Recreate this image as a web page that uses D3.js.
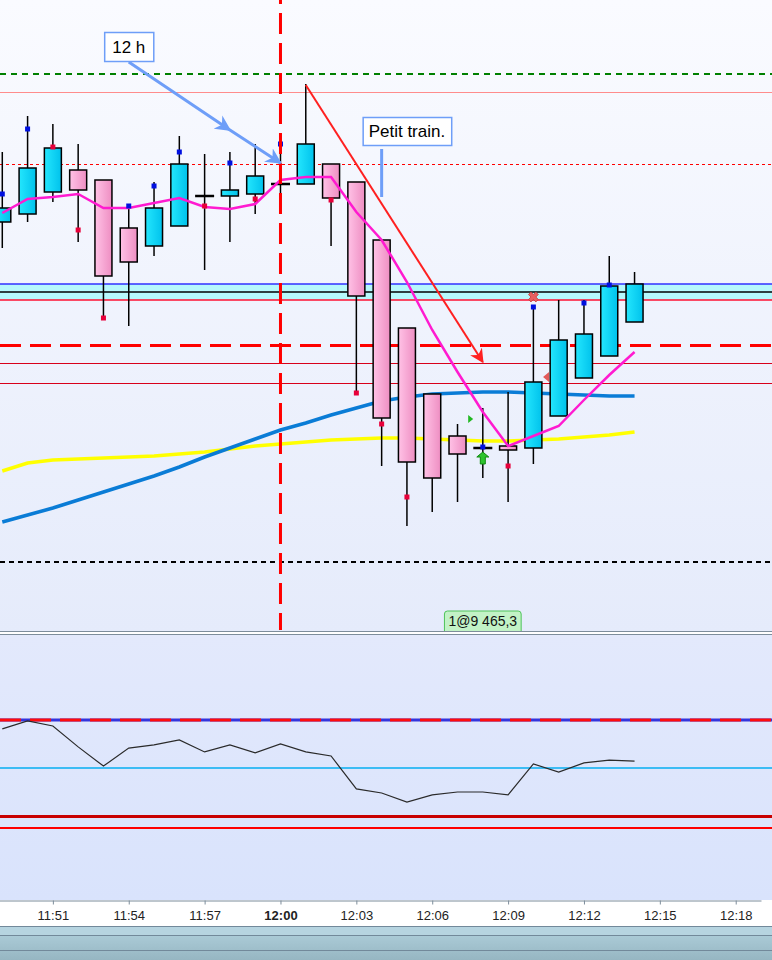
<!DOCTYPE html>
<html>
<head>
<meta charset="utf-8">
<script src="https://cdn.jsdelivr.net/npm/d3@7"></script>
<style>
  body { margin: 0; background: #fff; overflow: hidden; }
  svg { display: block; font-family: "Liberation Sans", Arial, sans-serif; }
</style>
</head>
<body>
<svg id="chart" width="772" height="960"></svg>
<script>
// one-minute bars
const times = ['11:49', '11:50', '11:51', '11:52', '11:53', '11:54', '11:55', '11:56', '11:57', '11:58',
  '11:59', '12:00', '12:01', '12:02', '12:03', '12:04', '12:05', '12:06', '12:07', '12:08',
  '12:09', '12:10', '12:11', '12:12', '12:13', '12:14']
const open = [9476.6, 9477.0, 9478.1, 9479.2, 9478.7, 9476.3, 9475.4, 9476.4, 9477.9, 9477.9,
  9478.0, 9478.5, 9478.5, 9479.5, 9478.6, 9475.7, 9471.3, 9468.0, 9465.9, 9465.3,
  9465.4, 9465.3, 9466.9, 9468.8, 9469.9, 9471.6]
const high = [9480.1, 9481.9, 9481.5, 9480.5, 9478.7, 9477.4, 9478.6, 9480.9, 9480.0, 9480.1,
  9480.5, 9481.0, 9483.5, 9479.5, 9478.6, 9475.7, 9471.3, 9468.0, 9466.5, 9467.3,
  9468.1, 9472.3, 9472.7, 9472.7, 9474.9, 9474.1]
const low = [9475.3, 9476.6, 9477.6, 9475.6, 9471.8, 9471.4, 9474.9, 9476.4, 9474.2, 9475.6,
  9477.0, 9477.0, 9478.5, 9475.4, 9468.1, 9464.4, 9461.4, 9462.1, 9462.6, 9463.8,
  9462.6, 9464.5, 9466.9, 9468.8, 9469.9, 9471.6]
const close = [9477.3, 9479.3, 9480.3, 9478.2, 9473.9, 9474.6, 9477.3, 9479.5, 9477.9, 9478.2,
  9478.9, 9478.5, 9480.5, 9477.8, 9472.9, 9466.8, 9464.6, 9463.8, 9465.0, 9465.3,
  9465.2, 9468.6, 9470.7, 9471.0, 9473.4, 9473.5]

// moving averages
const maShort = [9477.05, 9477.75, 9477.85, 9478.0, 9477.3, 9477.3, 9477.55, 9477.8, 9477.35, 9477.25,
  9477.5, 9478.7, 9478.85, 9478.85, 9477.1, 9475.7, 9473.6, 9471.2, 9469.1, 9467.1,
  9465.4, 9465.9, 9466.4, 9467.7, 9468.95, 9470.1]
const maMid = [9461.6, 9461.95, 9462.3, 9462.7, 9463.1, 9463.5, 9463.9, 9464.35, 9464.85, 9465.3,
  9465.75, 9466.2, 9466.55, 9466.95, 9467.3, 9467.65, 9467.85, 9468.0, 9468.05, 9468.1,
  9468.1, 9468.05, 9468.0, 9467.95, 9467.9, 9467.9]
const maLong = [9464.15, 9464.55, 9464.7, 9464.75, 9464.8, 9464.85, 9464.9, 9465.0, 9465.1, 9465.25,
  9465.4, 9465.5, 9465.6, 9465.7, 9465.75, 9465.8, 9465.8, 9465.75, 9465.7, 9465.65,
  9465.65, 9465.7, 9465.75, 9465.85, 9465.95, 9466.1]

// oscillator (lower panel)
const osc = [66.3, 69.6, 67.5, 58.8, 50.8, 58.3, 59.6, 61.7, 56.7, 59.6,
  56.3, 60.0, 56.7, 55.0, 41.3, 39.6, 35.8, 38.8, 40.0, 40.0,
  38.8, 51.7, 48.3, 52.1, 53.3, 52.9]
const oscLevels = { upper: 70, middle: 50, lower: 30, floor: 25 }

// price levels drawn across the main panel
const levelTargetHigh = 9484.0
const levelPrevHigh = 9483.1
const levelPivot = 9479.5
const zoneTop = 9473.5
const zoneMid = 9473.1
const zoneBottom = 9472.7
const levelStop = 9470.45
const levelA = 9469.55
const levelB = 9468.55
const levelLow = 9459.6

// swing markers
const highMarkTimes = ['11:49', '11:50', '11:54', '11:55', '11:56', '11:58', '12:00', '12:08', '12:10', '12:12', '12:13']
const highMarkPrices = [9478.0, 9481.25, 9477.4, 9478.4, 9480.1, 9479.55, 9480.5, 9465.35, 9472.35, 9472.55, 9473.45]
const lowMarkTimes = ['11:51', '11:52', '11:53', '11:57', '11:59', '12:02', '12:03', '12:04', '12:05', '12:09']
const lowMarkPrices = [9480.35, 9476.2, 9471.8, 9477.4, 9477.75, 9477.7, 9468.05, 9466.5, 9462.85, 9464.4]

// signals
const signals = [
  { time: '12:08', price: 9465.1, shape: 'buy' },
  { time: '12:07:30', price: 9466.75, shape: 'right' },
  { time: '12:10', price: 9472.85, shape: 'cross' },
  { time: '12:10:30', price: 9468.85, shape: 'left' }
]

// annotations
const trendLine = [['12:01', 9483.45], ['12:08', 9469.6]]
const noteArrow = [['11:54', 9484.6], ['11:58', 9481.2], ['12:00', 9479.55]]
const noteBox = { time: '11:54', price: 9486.1, text: '12 h' }
const trainBox = { time: '12:05', price: 9481.85, text: 'Petit train.' }
const trainTick = [['12:04', 9480.25], ['12:04', 9477.85]]
const sessionStart = '12:00'
const position = { time: '12:08', qty: 1, price: 9465.3 }

const tickLabels = ['11:51', '11:54', '11:57', '12:00', '12:03', '12:06', '12:09', '12:12', '12:15', '12:18']
const boldTicks = ['12:00']

const W = 772
const mainH = 630
const oscTop = 635
const oscBottom = 900
const axisY = 900

const parseT = s => d3.timeParse(s.length > 5 ? '%H:%M:%S' : '%H:%M')(s)
const fmtT = d3.timeFormat('%H:%M')

const x = d3.scaleTime()
    .domain([parseT('11:48'), parseT('12:19')])
    .range([-23, 761])
const y = d3.scaleLinear()
    .domain([9487.7, 9456.2])
    .range([0, mainH])
const yOsc = d3.scaleLinear()
    .domain([oscLevels.upper, oscLevels.lower])
    .range([720, 816])

const bars = times.map((t, i) => ({
  t: parseT(t), o: open[i], h: high[i], l: low[i], c: close[i]
}))

const svg = d3.select('#chart')
const defs = svg.append('defs')

function vGrad (id, stops) {
  let g = defs.append('linearGradient').attr('id', id)
      .attr('x1', 0).attr('y1', 0).attr('x2', 0).attr('y2', 1)
  stops.forEach((c, i) => g.append('stop').attr('offset', i / (stops.length - 1)).attr('stop-color', c))
}
function hGrad (id, a, b) {
  let g = defs.append('linearGradient').attr('id', id)
      .attr('x1', 0).attr('y1', 0).attr('x2', 1).attr('y2', 0)
  g.append('stop').attr('offset', 0).attr('stop-color', a)
  g.append('stop').attr('offset', 1).attr('stop-color', b)
}
vGrad('bgMain', ['#fafbff', '#e5ebfb'])
vGrad('bgOsc', ['#e3e9fc', '#d9e3fc'])
vGrad('bgScroll', ['#b2d2de', '#96b6c2'])
hGrad('bull', '#24e6fd', '#00c2ec')
hGrad('bear', '#ffc2e6', '#ee8ec2')

function arrowMarker (id, color, size) {
  defs.append('marker').attr('id', id)
      .attr('viewBox', '0 0 10 10').attr('refX', 9).attr('refY', 5)
      .attr('markerWidth', size).attr('markerHeight', size)
      .attr('markerUnits', 'userSpaceOnUse')
      .attr('orient', 'auto')
    .append('path').attr('d', 'M0,0 L10,5 L0,10 L3,5 Z').attr('fill', color)
}
arrowMarker('arrowRed', '#ff2020', 14)
arrowMarker('arrowBlue', '#6e9ef8', 16)

// backgrounds
svg.append('rect').attr('width', W).attr('height', mainH + 1).attr('fill', 'url(#bgMain)')
svg.append('rect').attr('y', oscTop).attr('width', W).attr('height', oscBottom - oscTop).attr('fill', 'url(#bgOsc)')
svg.append('rect').attr('y', 926).attr('width', W).attr('height', 34).attr('fill', 'url(#bgScroll)')
svg.append('rect').attr('y', 927).attr('width', W).attr('height', 8).attr('fill', '#b6d4e0')
;[631.5, 634.5].forEach(v => svg.append('line').attr('x1', 0).attr('x2', W).attr('y1', v).attr('y2', v)
    .attr('stroke', '#7d8d9b').attr('stroke-width', 1))
;[926.5, 935.5, 950.5].forEach(v => svg.append('line').attr('x1', 0).attr('x2', W).attr('y1', v).attr('y2', v)
    .attr('stroke', '#72899a').attr('stroke-width', 1))

const main = svg.append('g')

// odd widths sit on half pixels to stay crisp
function hLine (g, yy, color, width, dash) {
  let yc = width % 2 === 1 ? Math.round(yy) + 0.5 : Math.round(yy)
  g.append('line').attr('x1', 0).attr('x2', W).attr('y1', yc).attr('y2', yc)
      .attr('stroke', color).attr('stroke-width', width)
      .attr('stroke-dasharray', dash || null)
}

// zone band
main.append('rect').attr('x', 0).attr('width', W)
    .attr('y', y(zoneTop)).attr('height', y(zoneBottom) - y(zoneTop))
    .attr('fill', '#b6f8fc')
hLine(main, y(zoneTop), '#3030ff', 1.5)
hLine(main, y(zoneMid), '#000', 1.5)
hLine(main, y(zoneBottom), '#ff1030', 1.5)

hLine(main, y(levelTargetHigh), '#008000', 2, '6,5')
hLine(main, y(levelPrevHigh), '#ff8c8c', 1)
hLine(main, y(levelPivot), '#ff0000', 1, '3,3')
hLine(main, y(levelA), '#d8001a', 1)
hLine(main, y(levelB), '#d8001a', 1)
hLine(main, y(levelLow), '#000', 2, '5,4')

// moving averages
const line = d3.line().x((d, i) => x(parseT(times[i]))).y(d => y(d))
main.append('path').datum(maLong).attr('d', line)
    .attr('fill', 'none').attr('stroke', '#ffff00').attr('stroke-width', 3.5)
main.append('path').datum(maMid).attr('d', line)
    .attr('fill', 'none').attr('stroke', '#0a7cd6').attr('stroke-width', 3.5)

hLine(main, y(levelStop), '#ff0000', 3, '21,9')

// candles
const bw = 17
const candle = main.selectAll('g.candle').data(bars).join('g').attr('class', 'candle')
candle.append('line')
    .attr('x1', d => x(d.t)).attr('x2', d => x(d.t))
    .attr('y1', d => y(d.h)).attr('y2', d => y(d.l))
    .attr('stroke', '#000').attr('stroke-width', 1.5)
candle.filter(d => d.o !== d.c).append('rect')
    .attr('x', d => x(d.t) - bw / 2)
    .attr('y', d => y(Math.max(d.o, d.c)))
    .attr('width', bw)
    .attr('height', d => Math.max(2, Math.abs(y(d.o) - y(d.c))))
    .attr('fill', d => d.c > d.o ? 'url(#bull)' : 'url(#bear)')
    .attr('stroke', '#000').attr('stroke-width', 1.5)
candle.filter(d => d.o === d.c).append('line')
    .attr('x1', d => x(d.t) - bw / 2 - 1).attr('x2', d => x(d.t) + bw / 2 + 1)
    .attr('y1', d => y(d.c)).attr('y2', d => y(d.c))
    .attr('stroke', '#000').attr('stroke-width', 2.5)

main.append('path').datum(maShort).attr('d', line)
    .attr('fill', 'none').attr('stroke', '#ff1ad0').attr('stroke-width', 2.5)

// swing markers
main.selectAll('rect.hm').data(highMarkTimes).join('rect').attr('class', 'hm')
    .attr('x', d => x(parseT(d)) - 2.5).attr('y', (d, i) => y(highMarkPrices[i]) - 2.5)
    .attr('width', 5).attr('height', 5).attr('fill', '#0010e0')
main.selectAll('rect.lm').data(lowMarkTimes).join('rect').attr('class', 'lm')
    .attr('x', d => x(parseT(d)) - 2.5).attr('y', (d, i) => y(lowMarkPrices[i]) - 2.5)
    .attr('width', 5).attr('height', 5).attr('fill', '#e8003a')

// signals
signals.forEach(s => {
  let sx = x(parseT(s.time))
  let sy = y(s.price)
  let g = main.append('g').attr('transform', `translate(${sx},${sy})`)
  if (s.shape === 'buy') {
    g.append('path').attr('d', 'M0,0 L6,5 L2.5,5 L2.5,12 L-2.5,12 L-2.5,5 L-6,5 Z')
        .attr('fill', '#2ec42e').attr('stroke', '#108a10').attr('stroke-width', 1)
  } else if (s.shape === 'right') {
    g.append('path').attr('d', 'M-2,-4 L3,0 L-2,4 Z').attr('fill', '#22b822')
  } else if (s.shape === 'left') {
    g.append('path').attr('d', 'M3,-5 L-3,0 L3,5 Z').attr('fill', '#e25a5a')
  } else if (s.shape === 'cross') {
    g.append('path').attr('d', d3.symbol(d3.symbolCross, 60))
        .attr('transform', 'rotate(45)')
        .attr('fill', '#e86060').attr('stroke', '#c43c3c').attr('stroke-width', 0.8)
  }
})

// session marker
main.append('line')
    .attr('x1', x(parseT(sessionStart))).attr('x2', x(parseT(sessionStart)))
    .attr('y1', 0).attr('y2', mainH)
    .attr('stroke', '#ff0000').attr('stroke-width', 3)
    .attr('stroke-dasharray', '21,9').attr('stroke-dashoffset', 17)

// trend arrow
main.append('line')
    .attr('x1', x(parseT(trendLine[0][0]))).attr('y1', y(trendLine[0][1]))
    .attr('x2', x(parseT(trendLine[1][0]))).attr('y2', y(trendLine[1][1]))
    .attr('stroke', '#ff2020').attr('stroke-width', 2)
    .attr('marker-end', 'url(#arrowRed)')

// note arrow
main.append('polyline')
    .attr('points', noteArrow.map(p => [x(parseT(p[0])), y(p[1])].join(',')).join(' '))
    .attr('fill', 'none').attr('stroke', '#6e9ef8').attr('stroke-width', 3)
    .attr('marker-mid', 'url(#arrowBlue)').attr('marker-end', 'url(#arrowBlue)')

function noteLabel (note, padX, h) {
  let g = main.append('g')
  let t = g.append('text')
      .attr('x', x(parseT(note.time))).attr('y', y(note.price) + h / 2 + 6)
      .attr('text-anchor', 'middle').attr('font-size', 17).attr('fill', '#000')
      .text(note.text)
  let w = t.node().getComputedTextLength() + padX * 2
  g.insert('rect', 'text')
      .attr('x', x(parseT(note.time)) - w / 2 + 0.5).attr('y', y(note.price) + 0.5)
      .attr('width', w).attr('height', h)
      .attr('fill', '#fff').attr('stroke', '#6e9ef8').attr('stroke-width', 1.5)
}
noteLabel(noteBox, 8, 29)
noteLabel(trainBox, 6, 28)

main.append('line')
    .attr('x1', x(parseT(trainTick[0][0]))).attr('x2', x(parseT(trainTick[1][0])))
    .attr('y1', y(trainTick[0][1])).attr('y2', y(trainTick[1][1]))
    .attr('stroke', '#6e9ef8').attr('stroke-width', 3)

// position tag pinned to the bottom of the main panel
const frLocale = d3.formatLocale({ decimal: ',', thousands: ' ', grouping: [3], currency: ['', ' €'] })
const posText = `${position.qty}@${frLocale.format(',.1f')(position.price)}`
const posG = main.append('g')
const posT = posG.append('text')
    .attr('x', x(parseT(position.time))).attr('y', mainH - 4)
    .attr('text-anchor', 'middle').attr('font-size', 14).attr('fill', '#111')
    .text(posText)
const posW = posT.node().getComputedTextLength() + 8
posG.insert('path', 'text')
    .attr('d', `M${x(parseT(position.time)) - posW / 2},${mainH + 1} v-17 q0,-3 3,-3 h${posW - 6} q3,0 3,3 v17`)
    .attr('fill', '#c2f2c6').attr('stroke', '#4ec45a').attr('stroke-width', 1)

// oscillator panel
const osg = svg.append('g')
osg.append('line').attr('x1', 0).attr('x2', W)
    .attr('y1', yOsc(oscLevels.upper)).attr('y2', yOsc(oscLevels.upper))
    .attr('stroke', '#3434dc').attr('stroke-width', 3)
osg.append('line').attr('x1', 0).attr('x2', W)
    .attr('y1', yOsc(oscLevels.upper)).attr('y2', yOsc(oscLevels.upper))
    .attr('stroke', '#ff0c0c').attr('stroke-width', 3).attr('stroke-dasharray', '21,9')
hLine(osg, yOsc(oscLevels.middle), '#3cbcf4', 2)
hLine(osg, yOsc(oscLevels.lower), '#c80000', 3)
hLine(osg, yOsc(oscLevels.floor), '#ff0000', 2)

osg.append('path').datum(osc)
    .attr('d', d3.line().x((d, i) => x(parseT(times[i]))).y(d => yOsc(d)))
    .attr('fill', 'none').attr('stroke', '#2a2a2a').attr('stroke-width', 1.2)

// time axis
svg.append('rect').attr('y', axisY).attr('width', W).attr('height', 26).attr('fill', '#fff')
const axis = svg.append('g').attr('transform', `translate(0,${axisY + 0.5})`)
    .call(d3.axisBottom(x)
        .tickValues(tickLabels.map(parseT))
        .tickSize(4)
        .tickSizeOuter(0)
        .tickFormat(fmtT))
axis.select('.domain').attr('stroke', '#7d8d9b')
axis.selectAll('.tick line').attr('stroke', '#7d8d9b')
axis.selectAll('.tick text')
    .attr('font-family', '"Liberation Sans", Arial, sans-serif')
    .attr('font-size', 13).attr('fill', '#222').attr('dy', '0.95em')
    .attr('font-weight', d => boldTicks.includes(fmtT(d)) ? 'bold' : null)
</script>
</body>
</html>
